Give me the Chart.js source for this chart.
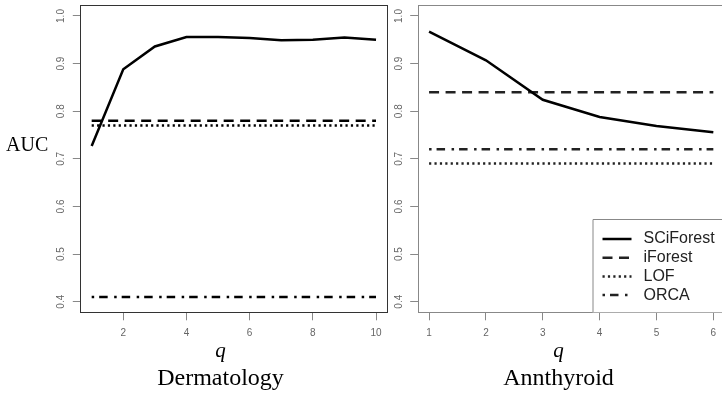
<!DOCTYPE html>
<html>
<head>
<meta charset="UTF-8">
<title>AUC vs q</title>
<script src="https://cdn.jsdelivr.net/npm/chart.js"></script>
<style>
  html, body { margin: 0; padding: 0; background: #fff; overflow: hidden; }
  #wrap { position: relative; width: 722px; height: 393px; overflow: hidden; }
  #derm { position: absolute; left: 0; top: 0; }
  #ann { position: absolute; left: 390px; top: 0; }
</style>
</head>
<body>
<div id="wrap">
  <canvas id="derm" width="390" height="393"></canvas>
  <canvas id="ann" width="340" height="393"></canvas>
</div>
<script>
// values
const methods = ['SCiForest', 'iForest', 'LOF', 'ORCA'];

const qDerm = [1, 2, 3, 4, 5, 6, 7, 8, 9, 10];
const sciDerm = [0.727, 0.888, 0.936, 0.956, 0.956, 0.954, 0.949, 0.950, 0.955, 0.950];
const baseDerm = [0.78, 0.77, 0.41]; // iForest, LOF, ORCA

const qAnn = [1, 2, 3, 4, 5, 6];
const sciAnn = [0.967, 0.907, 0.824, 0.788, 0.769, 0.756];
const baseAnn = [0.84, 0.69, 0.72]; // iForest, LOF, ORCA

const yTicks = [0.4, 0.5, 0.6, 0.7, 0.8, 0.9, 1.0];
const xTicksDerm = [2, 4, 6, 8, 10];
const xTicksAnn = [1, 2, 3, 4, 5, 6];

const dashes = [[], [10, 6.5], [2.2, 3.2], [2.5, 5, 8.5, 6.5]];
const serif = '"Liberation Serif", "DejaVu Serif", serif';
const sans = '"Liberation Sans", Arial, sans-serif';

function makeSets(q, sci, base, ink) {
  const sets = [{
    label: methods[0],
    data: q.map((x, i) => ({ x: x, y: sci[i] })),
    borderColor: '#000', borderWidth: 2.5, borderDash: dashes[0]
  }];
  base.forEach((v, k) => {
    sets.push({
      label: methods[k + 1],
      data: q.map(x => ({ x: x, y: v })),
      borderColor: ink, borderWidth: 2.5, borderDash: dashes[k + 1]
    });
  });
  sets.forEach(s => { s.pointRadius = 0; s.tension = 0; s.fill = false; s.borderCapStyle = 'butt'; });
  return sets;
}

// box round the plot + rotated y tick labels + free texts
const frame = {
  id: 'frame',
  afterDraw(chart, args, o) {
    const ctx = chart.ctx, a = chart.chartArea;
    ctx.save();
    ctx.strokeStyle = o.boxColor;
    ctx.lineWidth = 1;
    ctx.strokeRect(Math.round(a.left) + 0.5, Math.round(a.top) + 0.5,
      Math.round(a.right - a.left), Math.round(a.bottom - a.top));

    const ys = chart.scales.y;
    ctx.fillStyle = '#666';
    ctx.font = '10px ' + sans;
    ctx.textAlign = 'center';
    ctx.textBaseline = 'middle';
    ys.ticks.forEach(t => {
      const py = ys.getPixelForValue(t.value);
      ctx.save();
      ctx.translate(o.yLabelX, py);
      ctx.rotate(-Math.PI / 2);
      ctx.fillText(t.value.toFixed(1), 0, 0);
      ctx.restore();
    });

    ctx.fillStyle = '#000';
    ctx.textBaseline = 'alphabetic';
    ctx.font = 'italic 21px ' + serif;
    ctx.fillText('q', o.textX, 357);
    ctx.font = '24px ' + serif;
    ctx.fillText(o.title, o.textX, 385);
    if (o.ylab) {
      ctx.textAlign = 'left';
      ctx.font = '20px ' + serif;
      ctx.fillText(o.ylab, 6, 150.5);
    }

    if (o.legend) {
      const lx = o.legend.x, ly = o.legend.y;
      ctx.fillStyle = '#fff';
      ctx.fillRect(lx, ly, chart.width - lx, a.bottom - ly);
      ctx.strokeStyle = o.boxColor;
      ctx.beginPath();
      ctx.moveTo(lx + 0.5, Math.round(a.bottom));
      ctx.lineTo(lx + 0.5, ly + 0.5);
      ctx.lineTo(chart.width, ly + 0.5);
      ctx.stroke();
      ctx.font = '16px ' + sans;
      ctx.textAlign = 'left';
      ctx.textBaseline = 'middle';
      chart.data.datasets.forEach((d, i) => {
        const cy = ly + 20 + i * 18.7;
        ctx.strokeStyle = d.borderColor;
        ctx.lineWidth = d.borderWidth;
        ctx.setLineDash(d.borderDash);
        ctx.beginPath();
        ctx.moveTo(lx + 10, cy);
        ctx.lineTo(lx + 39, cy);
        ctx.stroke();
        ctx.setLineDash([]);
        ctx.fillStyle = '#222';
        ctx.fillText(d.label, lx + 51, cy);
      });
    }
    ctx.restore();
  }
};

function makeChart(id, q, sci, base, ink, xMin, xMax, xTicks, yAxisW, padRight, opts) {
  return new Chart(document.getElementById(id), {
    type: 'line',
    data: { datasets: makeSets(q, sci, base, ink) },
    options: {
      responsive: false,
      animation: false,
      devicePixelRatio: 1,
      layout: { padding: { top: 5, right: padRight, bottom: 0, left: 0 } },
      plugins: { legend: { display: false }, tooltip: { enabled: false }, frame: opts },
      scales: {
        x: {
          type: 'linear', min: xMin, max: xMax,
          afterBuildTicks: s => { s.ticks = xTicks.map(v => ({ value: v })); },
          afterFit: s => { s.height = 393 - 312.3; },
          border: { display: false },
          grid: { drawOnChartArea: false, drawTicks: true, tickLength: 8, color: '#888' },
          ticks: { color: '#666', font: { family: sans, size: 10 }, padding: 7, maxRotation: 0, autoSkip: false }
        },
        y: {
          min: 0.3777, max: 1.0231,
          afterBuildTicks: s => { s.ticks = yTicks.map(v => ({ value: v })); },
          afterFit: s => { s.width = yAxisW; },
          border: { display: false },
          grid: { drawOnChartArea: false, drawTicks: true, tickLength: 7.5, color: '#888' },
          ticks: { display: false }
        }
      }
    },
    plugins: [frame]
  });
}

makeChart('derm', qDerm, sciDerm, baseDerm, '#000', 0.64, 10.36, xTicksDerm, 80.3, 390 - 387.4,
  { boxColor: '#333', yLabelX: 61.7, textX: 220.5, title: 'Dermatology', ylab: 'AUC' });

makeChart('ann', qAnn, sciAnn, baseAnn, '#222', 0.8, 6.2, xTicksAnn, 27.7, 340 - 334.7,
  { boxColor: '#888', yLabelX: 9.3, textX: 168.5, title: 'Annthyroid',
    legend: { x: 202.5, y: 219 } });
</script>
</body>
</html>
